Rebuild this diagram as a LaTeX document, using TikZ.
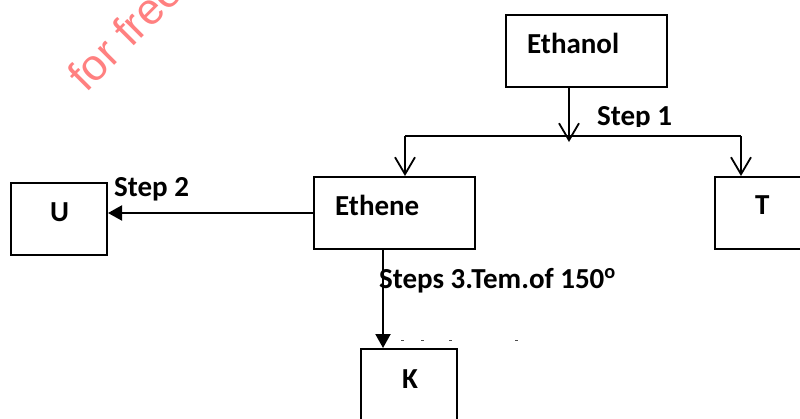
\documentclass[tikz,border=0pt]{standalone}
\usepackage{fontspec}
\setmainfont{Carlito}
\newfontfamily\wmfont{Liberation Sans}
\usetikzlibrary{arrows.meta}
\definecolor{wmred}{RGB}{255,128,128}
\tikzset{
  boxst/.style={draw=black, line width=2pt, rectangle, anchor=north west, inner sep=0pt},
  wide/.style={minimum width=161pt, minimum height=72pt},
  narrow/.style={minimum width=96pt, minimum height=72pt},
  txt/.style={anchor=base west, inner sep=0pt, font=\fontsize{29}{32}\selectfont\bfseries},
  conn/.style={line width=2pt},
  openarr/.style={conn, -{Straight Barb[length=17pt,width=20pt,line width=1.8pt]}},
  fillarr/.style={conn, -{Triangle[length=14pt,width=15pt]}},
  dot/.style={line width=1pt, draw=black!70}
}
\begin{document}
\begin{tikzpicture}[x=1pt,y=-1pt]
\useasboundingbox (0,0) rectangle (800,418);
% watermark
\node[anchor=base west, inner sep=0pt, rotate=45, text=wmred, font=\wmfont\fontsize{44}{48}\selectfont] (wm) at (86,94) {for free};
% boxes
\node[boxst, wide] (ethanol) at (505,14) {};
\node[boxst, wide] (ethene) at (313,176) {};
\node[boxst, narrow] (T) at (714,176) {};
\node[boxst, narrow] (U) at (10,182) {};
\node[boxst, narrow] (K) at (360,348) {};
% texts
\node[txt] (tEthanol) at (527,53) {Ethanol};
\node[txt] (tEthene) at (335,215) {Ethene};
\node[txt] (tT) at (755,214) {T};
\node[txt] (tU) at (50,221) {U};
\node[txt] (tK) at (402,388) {K};
\begin{scope}
\clip (590,95) rectangle (690,126);
\node[txt] (step1) at (597,125) {Step 1};
\end{scope}
\node[txt] (step2) at (114,196) {Step 2};
\node[txt] (step3) at (379,288) {Steps 3.Tem.of 150\textsuperscript{o}};
% connectors
\coordinate (split) at (569,136);
\coordinate (splitL) at (405,136);
\coordinate (splitR) at (741,136);
\draw[openarr] (ethanol.south -| split) -- ([yshift=-6pt]split);
\draw[conn] (splitL) -- (splitR);
\draw[openarr] (splitL) -- (splitL |- ethene.north);
\draw[openarr] (splitR) -- (splitR |- T.north);
\draw[fillarr] (ethene.west |- 0,213) -- (U.east |- 0,213);
\draw[fillarr] (ethene.south -| 383,0) -- (K.north -| 383,0);
% small marks
\foreach \xx in {401,421,449,515} \draw[dot] (\xx,340) -- (\xx+3,340);
\end{tikzpicture}
\end{document}
